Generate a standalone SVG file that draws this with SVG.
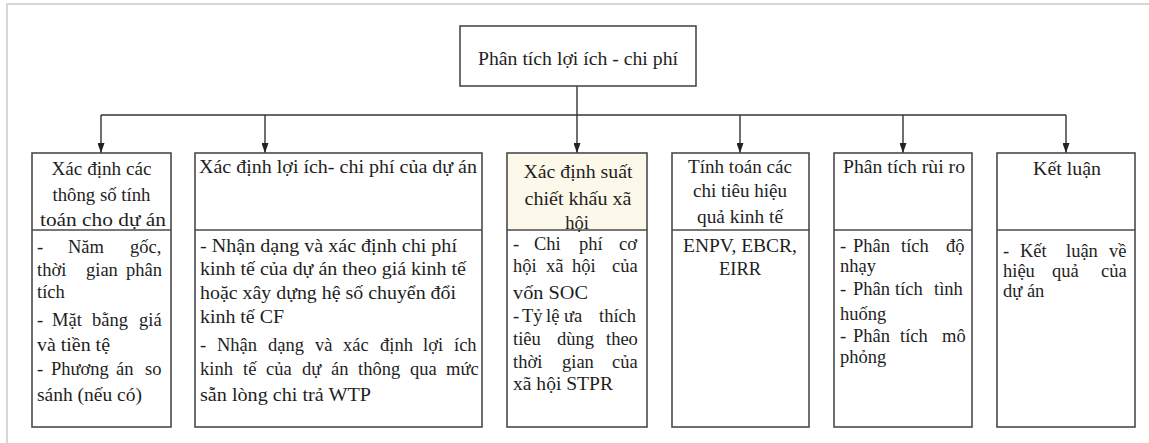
<svg xmlns="http://www.w3.org/2000/svg" width="1149" height="443" viewBox="0 0 1149 443">
<style>
svg text, svg tspan{font-family:'Liberation Serif',serif !important;font-size:18.5px;fill:#1e1e1e}
.frame{stroke:#d6d6d6;stroke-width:2;fill:none}
.box{fill:#fff;stroke:#4a4a4a;stroke-width:1.6}
.hl{fill:#fdf9ea;stroke:none}
.div{stroke:#4a4a4a;stroke-width:1.6}
.conn{stroke:#333;stroke-width:1.4;fill:none}
.c{text-anchor:middle}
</style>
<defs>
<marker id="arr" markerUnits="userSpaceOnUse" markerWidth="10" markerHeight="7" refX="10" refY="3.5" orient="auto">
<path d="M0,0 L10,3.5 L0,7 z" fill="#222"/>
</marker>
</defs>
<rect width="1149" height="443" fill="#fff"/>
<path class="frame" d="M7,443 V4 H1149"/>

<g id="connectors">
<path class="conn" d="M577,86 V153" marker-end="url(#arr)"/>
<path class="conn" d="M101,115 H1066"/>
<path class="conn" d="M101,115 V153" marker-end="url(#arr)"/>
<path class="conn" d="M265,115 V153" marker-end="url(#arr)"/>
<path class="conn" d="M740,115 V153" marker-end="url(#arr)"/>
<path class="conn" d="M903,115 V153" marker-end="url(#arr)"/>
<path class="conn" d="M1066,115 V153" marker-end="url(#arr)"/>
</g>

<g id="root" style="font-family:'Liberation Serif',serif">
<rect class="box" x="460" y="26" width="236" height="60"/>
<text class="c" x="578" y="65" textLength="200" lengthAdjust="spacingAndGlyphs">Phân tích lợi ích - chi phí</text>
</g>

<g id="n1" style="font-family:'Liberation Serif',serif">
<rect class="box" x="32" y="153" width="139" height="274"/>
<line class="div" x1="32" y1="230" x2="171" y2="230"/>
<text class="c" x="101.5" y="175" textLength="100" lengthAdjust="spacingAndGlyphs">Xác định các</text>
<text class="c" x="101.5" y="201" textLength="98" lengthAdjust="spacingAndGlyphs">thông số tính</text>
<text class="c" x="103" y="226" textLength="126" lengthAdjust="spacingAndGlyphs">toán cho dự án</text>
<text y="253"><tspan x="37">-</tspan><tspan x="68">Năm</tspan><tspan x="130">gốc,</tspan></text>
<text y="276"><tspan x="37">thời</tspan><tspan x="86">gian</tspan><tspan x="126">phân</tspan></text>
<text x="37" y="298">tích</text>
<text y="326"><tspan x="37">-</tspan><tspan x="52">Mặt</tspan><tspan x="92">bằng</tspan><tspan x="139">giá</tspan></text>
<text x="37" y="351" textLength="73" lengthAdjust="spacingAndGlyphs">và tiền tệ</text>
<text y="375"><tspan x="37">-</tspan><tspan x="51">Phương</tspan><tspan x="116">án</tspan><tspan x="145">so</tspan></text>
<text x="37" y="401" textLength="105" lengthAdjust="spacingAndGlyphs">sánh (nếu có)</text>
</g>

<g id="n2" style="font-family:'Liberation Serif',serif">
<rect class="box" x="195" y="153" width="287" height="274"/>
<line class="div" x1="195" y1="230" x2="482" y2="230"/>
<text x="199" y="173" textLength="278" lengthAdjust="spacingAndGlyphs">Xác định lợi ích- chi phí của dự án</text>
<text x="200" y="252" textLength="257" lengthAdjust="spacingAndGlyphs">- Nhận dạng và xác định chi phí</text>
<text x="200" y="275" textLength="266" lengthAdjust="spacingAndGlyphs">kinh tế của dự án theo giá kinh tế</text>
<text x="200" y="299" textLength="256" lengthAdjust="spacingAndGlyphs">hoặc xây dựng hệ số chuyển đổi</text>
<text x="200" y="323" textLength="84" lengthAdjust="spacingAndGlyphs">kinh tế CF</text>
<text y="351"><tspan x="200">-</tspan><tspan x="217">Nhận</tspan><tspan x="268">dạng</tspan><tspan x="315">và</tspan><tspan x="343">xác</tspan><tspan x="380">định</tspan><tspan x="423">lợi</tspan><tspan x="454">ích</tspan></text>
<text y="375"><tspan x="200">kinh</tspan><tspan x="243">tế</tspan><tspan x="266">của</tspan><tspan x="302">dự</tspan><tspan x="331">án</tspan><tspan x="358">thông</tspan><tspan x="410">qua</tspan><tspan x="446">mức</tspan></text>
<text x="200" y="401" textLength="171" lengthAdjust="spacingAndGlyphs">sẵn lòng chi trả WTP</text>
</g>

<g id="n3" style="font-family:'Liberation Serif',serif">
<rect class="box" x="507" y="153" width="140" height="274"/>
<rect class="hl" x="508" y="154" width="138" height="75"/>
<line class="div" x1="507" y1="230" x2="647" y2="230"/>
<text class="c" x="578" y="178" textLength="109" lengthAdjust="spacingAndGlyphs">Xác định suất</text>
<text class="c" x="578" y="205" textLength="107" lengthAdjust="spacingAndGlyphs">chiết khấu xã</text>
<text class="c" x="577" y="229">hội</text>
<text y="250"><tspan x="513">-</tspan><tspan x="534">Chi</tspan><tspan x="579">phí</tspan><tspan x="619">cơ</tspan></text>
<text y="272"><tspan x="513">hội</tspan><tspan x="546">xã</tspan><tspan x="572">hội</tspan><tspan x="612">của</tspan></text>
<text x="513" y="299" textLength="75" lengthAdjust="spacingAndGlyphs">vốn SOC</text>
<text y="322"><tspan x="513">-</tspan><tspan x="522">Tỷ</tspan><tspan x="546">lệ</tspan><tspan x="564">ưa</tspan><tspan x="599">thích</tspan></text>
<text y="345"><tspan x="513">tiêu</tspan><tspan x="557">dùng</tspan><tspan x="606">theo</tspan></text>
<text y="368"><tspan x="513">thời</tspan><tspan x="562">gian</tspan><tspan x="612">của</tspan></text>
<text x="513" y="390" textLength="100" lengthAdjust="spacingAndGlyphs">xã hội STPR</text>
</g>

<g id="n4" style="font-family:'Liberation Serif',serif">
<rect class="box" x="672" y="153" width="137" height="274"/>
<line class="div" x1="672" y1="230" x2="809" y2="230"/>
<text class="c" x="740" y="173" textLength="104" lengthAdjust="spacingAndGlyphs">Tính toán các</text>
<text class="c" x="740" y="197" textLength="94" lengthAdjust="spacingAndGlyphs">chi tiêu hiệu</text>
<text class="c" x="740" y="223" textLength="86" lengthAdjust="spacingAndGlyphs">quả kinh tế</text>
<text class="c" x="740" y="252" textLength="114" lengthAdjust="spacingAndGlyphs">ENPV, EBCR,</text>
<text class="c" x="740" y="275">EIRR</text>
</g>

<g id="n5" style="font-family:'Liberation Serif',serif">
<rect class="box" x="834" y="153" width="138" height="274"/>
<line class="div" x1="834" y1="230" x2="972" y2="230"/>
<text x="843" y="173" textLength="122" lengthAdjust="spacingAndGlyphs">Phân tích rùi ro</text>
<text y="252"><tspan x="840">-</tspan><tspan x="853">Phân</tspan><tspan x="901">tích</tspan><tspan x="946">độ</tspan></text>
<text x="840" y="272">nhạy</text>
<text y="295"><tspan x="840">-</tspan><tspan x="853">Phân</tspan><tspan x="895">tích</tspan><tspan x="934">tình</tspan></text>
<text x="840" y="320">huống</text>
<text y="342"><tspan x="840">-</tspan><tspan x="853">Phân</tspan><tspan x="900">tích</tspan><tspan x="942">mô</tspan></text>
<text x="840" y="363">phỏng</text>
</g>

<g id="n6" style="font-family:'Liberation Serif',serif">
<rect class="box" x="997" y="153" width="138" height="274"/>
<line class="div" x1="997" y1="230" x2="1135" y2="230"/>
<text class="c" x="1067" y="175" textLength="68" lengthAdjust="spacingAndGlyphs">Kết luận</text>
<text y="257"><tspan x="1003">-</tspan><tspan x="1020">Kết</tspan><tspan x="1066">luận</tspan><tspan x="1109">về</tspan></text>
<text y="277"><tspan x="1003">hiệu</tspan><tspan x="1052">quả</tspan><tspan x="1101">của</tspan></text>
<text x="1003" y="297">dự án</text>
</g>
</svg>
